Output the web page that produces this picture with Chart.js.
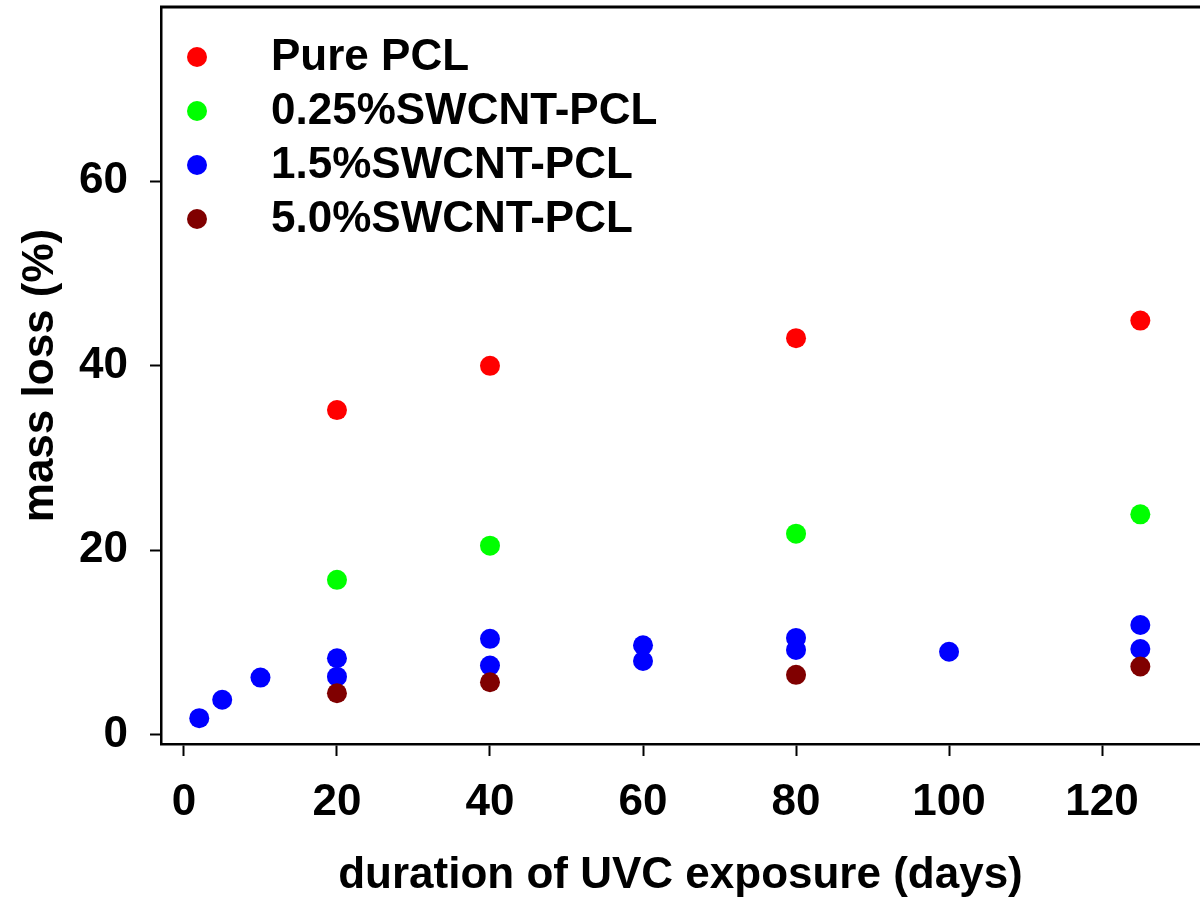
<!DOCTYPE html>
<html>
<head>
<meta charset="utf-8">
<script src="https://cdn.jsdelivr.net/npm/chart.js@4"></script>
<style>
  body { margin: 0; background: #fff; }
  #wrap { width: 1200px; height: 898px; }
</style>
</head>
<body>
<div id="wrap"><canvas id="chart"></canvas></div>
<script>
const seriesNames = ['Pure PCL', '0.25%SWCNT-PCL', '1.5%SWCNT-PCL', '5.0%SWCNT-PCL'];
const seriesColors = ['#ff0000', '#00ff00', '#0000ff', '#800000'];

const purePcl = [[20, 35.2], [40, 40.0], [80, 43.0], [125, 44.9]];
const swcnt025 = [[20, 16.8], [40, 20.5], [80, 21.8], [125, 23.9]];
const swcnt15 = [[2, 1.8], [5, 3.8], [10, 6.2], [20, 8.3], [20, 6.3], [40, 10.4], [40, 7.5],
  [60, 9.7], [60, 8.0], [80, 10.5], [80, 9.2], [100, 9.0], [125, 11.9], [125, 9.3]];
const swcnt50 = [[20, 4.5], [40, 5.7], [80, 6.5], [125, 7.4]];

const xTicks = [0, 20, 40, 60, 80, 100, 120];
const yTicks = [0, 20, 40, 60];

const font = { family: 'Liberation Sans, Arial, sans-serif', weight: 'bold', size: 44 };

const toPts = arr => arr.map(p => ({ x: p[0], y: p[1] }));
const allSeries = [purePcl, swcnt025, swcnt15, swcnt50];

// legend drawn inside the plot, top left
const insideLegend = {
  id: 'insideLegend',
  afterDraw(chart) {
    const ctx = chart.ctx;
    const area = chart.chartArea;
    ctx.save();
    // top frame line
    ctx.strokeStyle = '#000';
    ctx.lineWidth = 3;
    ctx.beginPath();
    ctx.moveTo(area.left - 1, area.top);
    ctx.lineTo(area.right, area.top);
    ctx.stroke();

    ctx.font = 'bold 44px Liberation Sans, Arial, sans-serif';
    ctx.textBaseline = 'middle';
    seriesNames.forEach((name, i) => {
      const y = area.top + 50 + i * 54;
      ctx.fillStyle = seriesColors[i];
      ctx.beginPath();
      ctx.arc(area.left + 36, y, 10, 0, Math.PI * 2);
      ctx.fill();
      ctx.fillStyle = '#000';
      ctx.fillText(name, area.left + 110, y + 1);
    });
    ctx.restore();
  }
};

new Chart(document.querySelector('#chart'), {
  type: 'scatter',
  data: {
    datasets: allSeries.map((s, i) => ({
      label: seriesNames[i],
      data: toPts(s),
      backgroundColor: seriesColors[i],
      borderWidth: 0,
      pointRadius: 10,
      order: i === 3 ? 0 : 4 - i
    }))
  },
  options: {
    responsive: true,
    maintainAspectRatio: false,
    animation: false,
    events: [],
    layout: { autoPadding: false, padding: { top: 7, right: 0, left: 0, bottom: 0 } },
    plugins: { legend: { display: false }, tooltip: { enabled: false } },
    scales: {
      x: {
        type: 'linear',
        min: -3,
        max: 132.8,
        afterBuildTicks: s => { s.ticks = xTicks.map(v => ({ value: v })) },
        afterFit: s => { s.height = 154; s.paddingLeft = 0; s.paddingRight = 0 },
        ticks: { color: '#000', font: font, padding: 20, maxRotation: 0 },
        grid: { drawOnChartArea: false, tickLength: 12, tickColor: '#000', tickWidth: 2 },
        border: { display: true, color: '#000', width: 2.5 },
        title: { display: true, text: 'duration of UVC exposure (days)', color: '#000', font: font, padding: { top: 0, bottom: -4 } }
      },
      y: {
        type: 'linear',
        min: -1,
        max: 78.9,
        afterBuildTicks: s => { s.ticks = yTicks.map(v => ({ value: v })) },
        afterFit: s => { s.width = 161; s.paddingTop = 0; s.paddingBottom = 0 },
        ticks: { color: '#000', font: font, padding: 22 },
        grid: { drawOnChartArea: false, tickLength: 11, tickColor: '#000', tickWidth: 2 },
        border: { display: true, color: '#000', width: 2.5 },
        title: { display: true, text: 'mass loss (%)', color: '#000', font: font, padding: { top: 14, bottom: 0 } }
      }
    }
  },
  plugins: [insideLegend]
});
</script>
</body>
</html>
